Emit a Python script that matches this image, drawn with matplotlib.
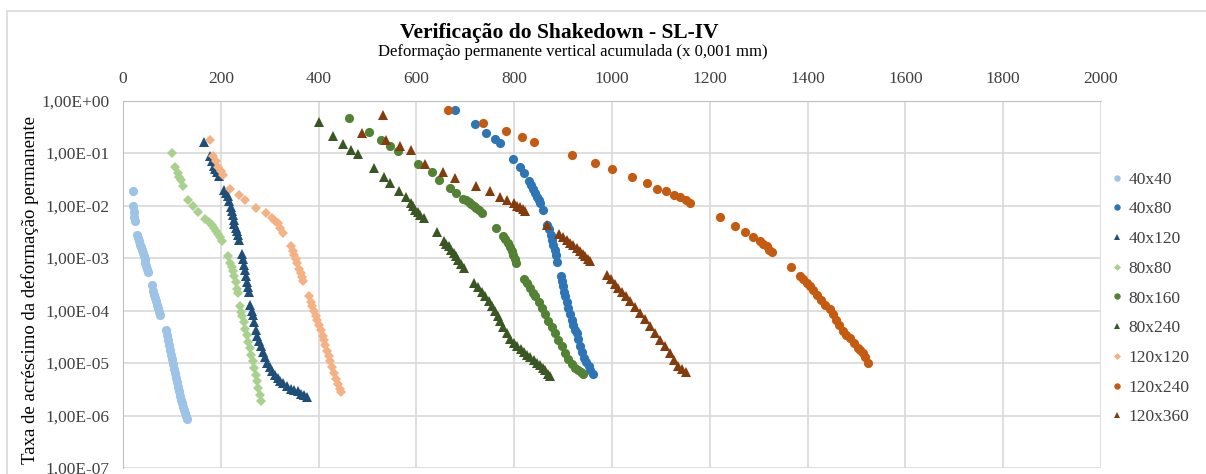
import math
import matplotlib
matplotlib.use('Agg')
import matplotlib.pyplot as plt
from matplotlib.ticker import FixedLocator, FuncFormatter, NullLocator
from matplotlib.patches import Rectangle

plt.rcParams['font.family'] = ['Liberation Serif', 'DejaVu Serif']

# dados: deformacao acumulada (x 0,001 mm) e taxa de acrescimo
x_40x40 = [21, 21, 22, 23, 24, 28, 30, 32, 34, 36, 38, 40, 42, 44, 46, 48, 50, 52,
           60, 62, 64, 66, 68, 70, 72, 74, 76,
           88, 90, 92, 94, 96, 98, 100, 102, 104, 106, 108, 110, 112, 114, 116, 118,
           120, 122, 124, 126, 128, 130]
y_40x40 = [1.9e-2, 1.0e-2, 7.5e-3, 6.0e-3, 5.0e-3, 2.8e-3, 2.4e-3, 2.1e-3, 1.8e-3, 1.6e-3,
           1.4e-3, 1.25e-3, 1.1e-3, 9.5e-4, 8.2e-4, 7.0e-4, 6.2e-4, 5.3e-4,
           3.0e-4, 2.4e-4, 2.0e-4, 1.75e-4, 1.5e-4, 1.3e-4, 1.1e-4, 9.5e-5, 8.2e-5,
           4.2e-5, 3.4e-5, 2.7e-5, 2.2e-5, 1.8e-5, 1.45e-5, 1.2e-5, 9.6e-6, 7.8e-6, 6.4e-6,
           5.2e-6, 4.3e-6, 3.5e-6, 2.9e-6, 2.4e-6, 2.0e-6, 1.7e-6, 1.45e-6, 1.25e-6, 1.1e-6,
           9.8e-7, 8.7e-7]

x_40x80 = [678, 720, 743, 760, 770, 797, 811, 820, 831, 835, 839, 843, 846, 850, 853, 858,
           868, 871, 875, 878, 880, 883, 886, 888, 895, 897, 899, 902, 904, 908, 911, 915,
           918, 921, 925, 928, 931, 935, 939, 943, 947, 952, 956, 961]
y_40x80 = [0.66, 0.36, 0.245, 0.185, 0.154, 7.7e-2, 5.3e-2, 4.1e-2, 2.9e-2, 2.5e-2, 2.1e-2,
           1.75e-2, 1.48e-2, 1.28e-2, 1.1e-2, 8.3e-3, 4.3e-3, 3.5e-3, 2.8e-3, 2.2e-3, 1.8e-3,
           1.45e-3, 1.15e-3, 8.3e-4, 4.5e-4, 3.6e-4, 2.9e-4, 2.3e-4, 1.86e-4, 1.45e-4, 1.12e-4,
           8.5e-5, 6.7e-5, 5.3e-5, 4.3e-5, 3.7e-5, 2.9e-5, 2.1e-5, 1.6e-5, 1.26e-5, 1.05e-5,
           8.7e-6, 7.4e-6, 6.3e-6]

x_40x120 = [165, 178, 183, 186, 189, 192, 197, 207, 211, 214, 217, 220, 222, 224, 226, 228,
            231, 233, 235, 238, 243, 245, 248, 250, 252, 254, 256, 258, 260, 263, 265, 268,
            271, 274, 278, 282, 286, 290, 295, 300, 305, 310, 316, 322, 328, 336, 344, 350,
            357, 364, 370, 377]
y_40x120 = [0.16, 8.8e-2, 6.9e-2, 5.7e-2, 5.0e-2, 4.4e-2, 3.7e-2, 2.0e-2, 1.7e-2, 1.5e-2,
            1.2e-2, 9.5e-3, 7.8e-3, 6.5e-3, 5.4e-3, 4.5e-3, 3.7e-3, 3.2e-3, 2.8e-3, 2.2e-3,
            1.2e-3, 9.5e-4, 7.5e-4, 5.8e-4, 4.6e-4, 3.5e-4, 2.8e-4, 2.3e-4, 1.3e-4, 1.0e-4,
            8.3e-5, 6.0e-5, 4.3e-5, 3.3e-5, 2.6e-5, 2.1e-5, 1.65e-5, 1.3e-5, 1.0e-5, 8.3e-6,
            7.0e-6, 6.0e-6, 5.2e-6, 4.6e-6, 4.1e-6, 3.6e-6, 3.2e-6, 3.0e-6, 2.9e-6, 2.6e-6,
            2.45e-6, 2.3e-6]

x_80x80 = [101, 107, 112, 115, 118, 123, 133, 144, 154, 168, 175, 181, 186, 190, 194, 198,
           202, 215, 219, 222, 225, 228, 231, 234, 236, 239, 242, 244, 247, 250, 253, 256,
           259, 262, 265, 268, 271, 274, 277, 280, 283]
y_80x80 = [0.10, 5.4e-2, 4.2e-2, 3.5e-2, 3.0e-2, 2.4e-2, 1.3e-2, 9.6e-3, 7.5e-3, 5.6e-3,
           4.9e-3, 4.3e-3, 3.8e-3, 3.3e-3, 2.9e-3, 2.5e-3, 2.1e-3, 1.07e-3, 8.0e-4, 6.6e-4,
           5.6e-4, 4.5e-4, 3.5e-4, 2.6e-4, 2.2e-4, 1.2e-4, 9.5e-5, 8.0e-5, 6.0e-5, 4.5e-5,
           3.4e-5, 2.5e-5, 1.9e-5, 1.4e-5, 1.07e-5, 8.0e-6, 6.0e-6, 4.5e-6, 3.4e-6, 2.5e-6,
           1.9e-6]

x_80x160 = [462, 503, 528, 545, 562, 603, 632, 647, 668, 682, 695, 701, 707, 712, 717, 722,
            727, 734, 763, 777, 782, 788, 792, 795, 798, 801, 804, 820, 826, 833, 838, 843,
            850, 856, 863, 870, 877, 884, 890, 897, 904, 911, 918, 924, 930, 936, 941]
y_80x160 = [0.46, 0.25, 0.18, 0.136, 0.11, 6.1e-2, 4.3e-2, 3.1e-2, 2.2e-2, 1.7e-2, 1.35e-2,
            1.25e-2, 1.15e-2, 1.07e-2, 1.0e-2, 9.0e-3, 8.3e-3, 7.2e-3, 3.8e-3, 2.6e-3, 2.3e-3,
            1.94e-3, 1.6e-3, 1.34e-3, 1.15e-3, 9.5e-4, 8.0e-4, 4.0e-4, 3.3e-4, 2.7e-4, 2.2e-4,
            1.86e-4, 1.45e-4, 1.12e-4, 8.5e-5, 6.3e-5, 4.8e-5, 3.7e-5, 2.8e-5, 2.1e-5, 1.55e-5,
            1.17e-5, 9.5e-6, 8.2e-6, 7.2e-6, 6.6e-6, 6.3e-6]

x_80x240 = [401, 430, 450, 467, 480, 513, 533, 545, 564, 578, 588, 593, 598, 603, 608, 616,
            642, 656, 661, 666, 671, 676, 681, 686, 692, 698, 718, 726, 734, 741, 748, 755,
            761, 766, 771, 778, 785, 792, 799, 806, 813, 820, 826, 833, 840, 846, 852, 858,
            864, 870, 873]
y_80x240 = [0.39, 0.21, 0.15, 0.115, 9.6e-2, 5.1e-2, 3.5e-2, 2.7e-2, 1.9e-2, 1.45e-2, 1.1e-2,
            9.6e-3, 8.3e-3, 7.4e-3, 6.6e-3, 5.8e-3, 3.1e-3, 2.1e-3, 1.85e-3, 1.66e-3, 1.45e-3,
            1.25e-3, 1.08e-3, 9.3e-4, 7.8e-4, 6.5e-4, 3.4e-4, 2.8e-4, 2.3e-4, 1.85e-4, 1.5e-4,
            1.2e-4, 9.6e-5, 7.8e-5, 6.2e-5, 4.8e-5, 3.7e-5, 2.9e-5, 2.4e-5, 2.1e-5, 1.85e-5,
            1.6e-5, 1.45e-5, 1.3e-5, 1.15e-5, 1.0e-5, 9.0e-6, 8.2e-6, 7.4e-6, 6.2e-6, 5.6e-6]

x_120x120 = [178, 185, 190, 194, 200, 205, 219, 237, 249, 271, 292, 305, 311, 316, 322, 328,
             343, 347, 350, 353, 356, 360, 363, 366, 369, 380, 384, 387, 390, 394, 397, 401,
             404, 408, 411, 414, 418, 421, 424, 428, 431, 435, 439, 443, 446]
y_120x120 = [0.18, 8.8e-2, 6.9e-2, 5.5e-2, 4.6e-2, 3.8e-2, 2.1e-2, 1.6e-2, 1.25e-2, 8.9e-3,
             7.2e-3, 5.7e-3, 5.1e-3, 4.6e-3, 3.7e-3, 3.0e-3, 1.66e-3, 1.35e-3, 1.15e-3, 9.5e-4,
             8.0e-4, 6.3e-4, 5.1e-4, 4.3e-4, 3.6e-4, 1.86e-4, 1.45e-4, 1.2e-4, 9.8e-5, 8.0e-5,
             6.7e-5, 5.3e-5, 4.2e-5, 3.3e-5, 2.8e-5, 2.2e-5, 1.7e-5, 1.35e-5, 1.1e-5, 8.5e-6,
             6.5e-6, 5.0e-6, 3.9e-6, 3.2e-6, 2.8e-6]

x_120x240 = [664, 737, 783, 816, 841, 918, 965, 999, 1040, 1071, 1093, 1111, 1127, 1139, 1151,
             1159, 1220, 1251, 1271, 1288, 1302, 1309, 1316, 1322, 1328, 1367, 1384, 1391, 1398,
             1405, 1411, 1420, 1428, 1436, 1445, 1452, 1458, 1465, 1472, 1479, 1486, 1494, 1503,
             1508, 1513, 1518, 1523]
y_120x240 = [0.66, 0.37, 0.26, 0.20, 0.165, 9.2e-2, 6.4e-2, 4.9e-2, 3.5e-2, 2.7e-2, 2.1e-2,
             1.85e-2, 1.6e-2, 1.45e-2, 1.29e-2, 1.14e-2, 6.0e-3, 4.1e-3, 3.1e-3, 2.5e-3, 2.1e-3,
             1.85e-3, 1.66e-3, 1.45e-3, 1.3e-3, 6.6e-4, 4.6e-4, 3.9e-4, 3.35e-4, 2.9e-4, 2.5e-4,
             2.0e-4, 1.6e-4, 1.3e-4, 1.05e-4, 8.4e-5, 6.7e-5, 5.2e-5, 4.0e-5, 3.4e-5, 3.0e-5,
             2.4e-5, 1.95e-5, 1.75e-5, 1.55e-5, 1.3e-5, 1.0e-5]

x_120x360 = [532, 489, 537, 566, 588, 618, 654, 679, 722, 751, 771, 785, 799, 806, 812, 817,
             822, 868, 892, 900, 907, 914, 921, 928, 935, 940, 945, 950, 955, 989, 997, 1006,
             1013, 1020, 1028, 1037, 1047, 1057, 1067, 1078, 1088, 1098, 1108, 1118, 1126, 1135,
             1143, 1151]
y_120x360 = [0.53, 0.245, 0.178, 0.138, 0.115, 6.1e-2, 4.4e-2, 3.3e-2, 2.4e-2, 1.9e-2, 1.48e-2,
             1.29e-2, 1.1e-2, 1.0e-2, 9.3e-3, 8.6e-3, 7.9e-3, 4.3e-3, 2.9e-3, 2.5e-3, 2.2e-3,
             1.95e-3, 1.74e-3, 1.55e-3, 1.35e-3, 1.2e-3, 1.07e-3, 9.7e-4, 8.8e-4, 4.8e-4, 3.9e-4,
             3.2e-4, 2.7e-4, 2.3e-4, 1.85e-4, 1.5e-4, 1.15e-4, 9.0e-5, 6.8e-5, 5.0e-5, 3.8e-5,
             2.8e-5, 2.1e-5, 1.55e-5, 1.15e-5, 8.7e-6, 7.6e-6, 6.7e-6]

series = [
    ('40x40', x_40x40, y_40x40, '#9DC3E6', 'o', 6.6),
    ('40x80', x_40x80, y_40x80, '#2E75B6', 'o', 6.6),
    ('40x120', x_40x120, y_40x120, '#1F4E79', '^', 6.8),
    ('80x80', x_80x80, y_80x80, '#A9D18E', 'D', 5.0),
    ('80x160', x_80x160, y_80x160, '#548235', 'o', 6.6),
    ('80x240', x_80x240, y_80x240, '#385723', '^', 6.8),
    ('120x120', x_120x120, y_120x120, '#F4B183', 'D', 5.0),
    ('120x240', x_120x240, y_120x240, '#C55A11', 'o', 6.6),
    ('120x360', x_120x360, y_120x360, '#843C0C', '^', 6.8),
]

W, H = 1206, 474
fig = plt.figure(figsize=(W / 100, H / 100), dpi=100)
ax = fig.add_axes([123 / W, 1 - 468 / H, (1101 - 123) / W, (468 - 100.5) / H])

for nome, xs, ys, cor, mk, ms in series:
    ax.plot(xs, ys, linestyle='none', marker=mk, markersize=ms, color=cor,
            markeredgewidth=0, label=nome)

ax.set_yscale('log')
ax.set_xlim(0, 2000)
ax.set_ylim(1e-7, 1)
ax.xaxis.tick_top()
ax.set_xticks(range(0, 2001, 200))
ax.yaxis.set_major_locator(FixedLocator([10.0 ** e for e in range(-7, 1)]))
ax.yaxis.set_minor_locator(NullLocator())
ax.yaxis.set_major_formatter(FuncFormatter(lambda v, p: '1,00E%+03d' % round(math.log10(v))))
ax.tick_params(length=0, labelsize=12.5, colors='#404040', pad=10)
ax.grid(True, color='#D9D9D9', linewidth=1.2)
ax.set_axisbelow(True)
for lado in ['left', 'top']:
    ax.spines[lado].set_color('#BFBFBF')
ax.spines['right'].set_visible(False)
ax.spines['bottom'].set_visible(False)

fig.text(559 / W, 1 - 33 / H, 'Verificação do Shakedown - SL-IV', ha='center', va='center',
         fontsize=15.5, fontweight='bold', color='#000000')
fig.text(573 / W, 1 - 52 / H, 'Deformação permanente vertical acumulada (x 0,001 mm)',
         ha='center', va='center', fontsize=12, color='#000000')
fig.text(30 / W, 1 - 290 / H, 'Taxa de acréscimo da deformação permanente', ha='center',
         va='center', rotation=90, fontsize=13.5, color='#000000')

leg = ax.legend(loc='center left', bbox_to_anchor=(1112 / W, 1 - 298.5 / H),
                bbox_transform=fig.transFigure, frameon=False, fontsize=12.5,
                markerscale=0.7, handlelength=0.6, handletextpad=0.35,
                labelspacing=0.78, borderpad=0, borderaxespad=0)
for t in leg.get_texts():
    t.set_color('#404040')

fig.patches.append(Rectangle((7 / W, -0.1), 1.2, 1 - 11 / H + 0.1, transform=fig.transFigure,
                             fill=False, edgecolor='#D9D9D9', linewidth=1.2))

fig.savefig('out.png', dpi=100)
